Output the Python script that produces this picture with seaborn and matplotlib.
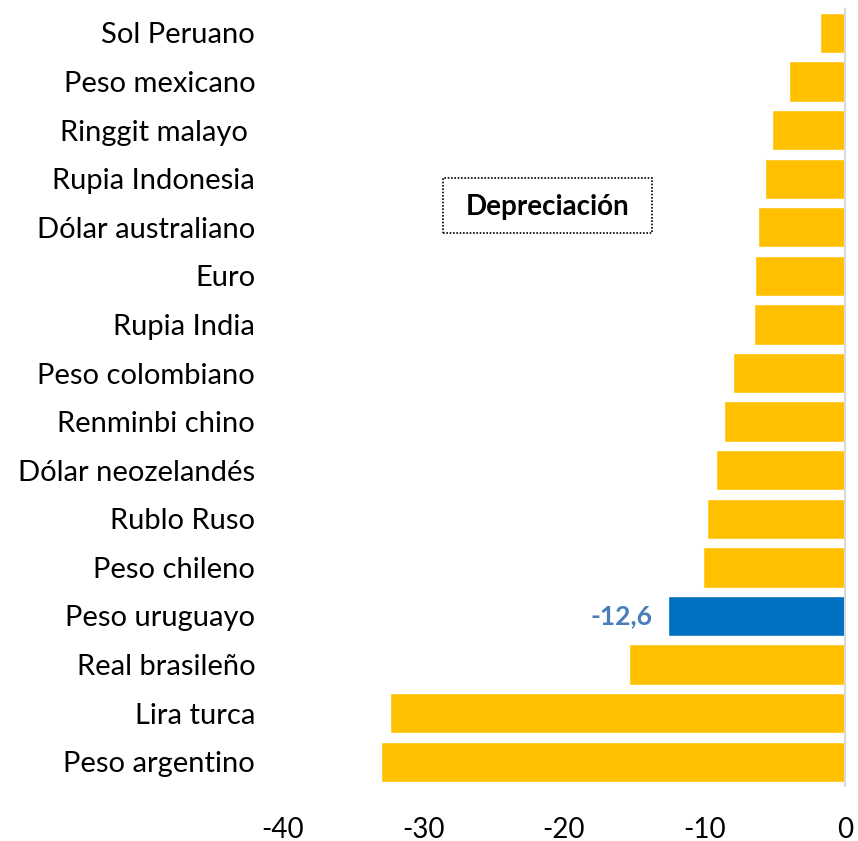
import matplotlib
matplotlib.use('Agg')
import matplotlib.pyplot as plt
import matplotlib.patches as mpatches
import seaborn as sns
import pandas as pd

monedas = ['Sol Peruano', 'Peso mexicano', 'Ringgit malayo ', 'Rupia Indonesia', 'Dólar australiano', 'Euro',
           'Rupia India', 'Peso colombiano', 'Renminbi chino', 'Dólar neozelandés', 'Rublo Ruso', 'Peso chileno',
           'Peso uruguayo', 'Real brasileño', 'Lira turca', 'Peso argentino']
variacion = [-1.8, -4.0, -5.2, -5.7, -6.2, -6.4, -6.5, -8.0, -8.6, -9.2, -9.8, -10.1, -12.6, -15.4, -32.4, -33.0]
destacada = 'Peso uruguayo'
xticks = [-40, -30, -20, -10, 0]

sns.set_style('white')
plt.rcParams['font.family'] = ['Lato', 'DejaVu Sans']

df = pd.DataFrame({'moneda': monedas, 'valor': variacion})
df['grupo'] = ['uy' if m == destacada else 'otros' for m in df['moneda']]

fig = plt.figure(figsize=(8.58, 8.41), dpi=100)
ax = fig.add_axes([0.3298, 0.0654, 0.655, 0.9243])

sns.barplot(data=df, x='valor', y='moneda', hue='grupo', orient='h', dodge=False, width=0.83,
            palette={'otros': '#FFC000', 'uy': '#0070C0'}, legend=False, ax=ax, saturation=1)

ax.set_xlim(-40, 0)
ax.set_xticks(xticks)
ax.set_xticklabels([str(t) for t in xticks], fontsize=20)
ax.tick_params(axis='y', labelsize=21, pad=20, length=0, labelcolor='black')
ax.tick_params(axis='x', pad=22, length=0, labelcolor='black')
ax.set_xlabel('')
ax.set_ylabel('')
for side in ['top', 'bottom', 'left']:
    ax.spines[side].set_visible(False)
ax.spines['right'].set_color('#D9D9D9')
ax.spines['right'].set_linewidth(1.5)

# etiqueta del peso uruguayo
i = monedas.index(destacada)
ax.text(variacion[i] - 1.1, i, f'{variacion[i]:.1f}'.replace('.', ','), ha='right', va='center',
        fontsize=19, fontweight='bold', color='#4A7EBB')

# recuadro punteado
caja = mpatches.Rectangle((0.285, 0.711), 0.372, 0.071, transform=ax.transAxes, fill=False,
                          edgecolor='black', linestyle=(0, (1, 1)), linewidth=1.2)
ax.add_patch(caja)
ax.text(0.285 + 0.372 / 2, 0.7445, 'Depreciación', transform=ax.transAxes, ha='center', va='center',
        fontsize=20, fontweight='bold', color='black')

fig.savefig('out.png', dpi=100)
